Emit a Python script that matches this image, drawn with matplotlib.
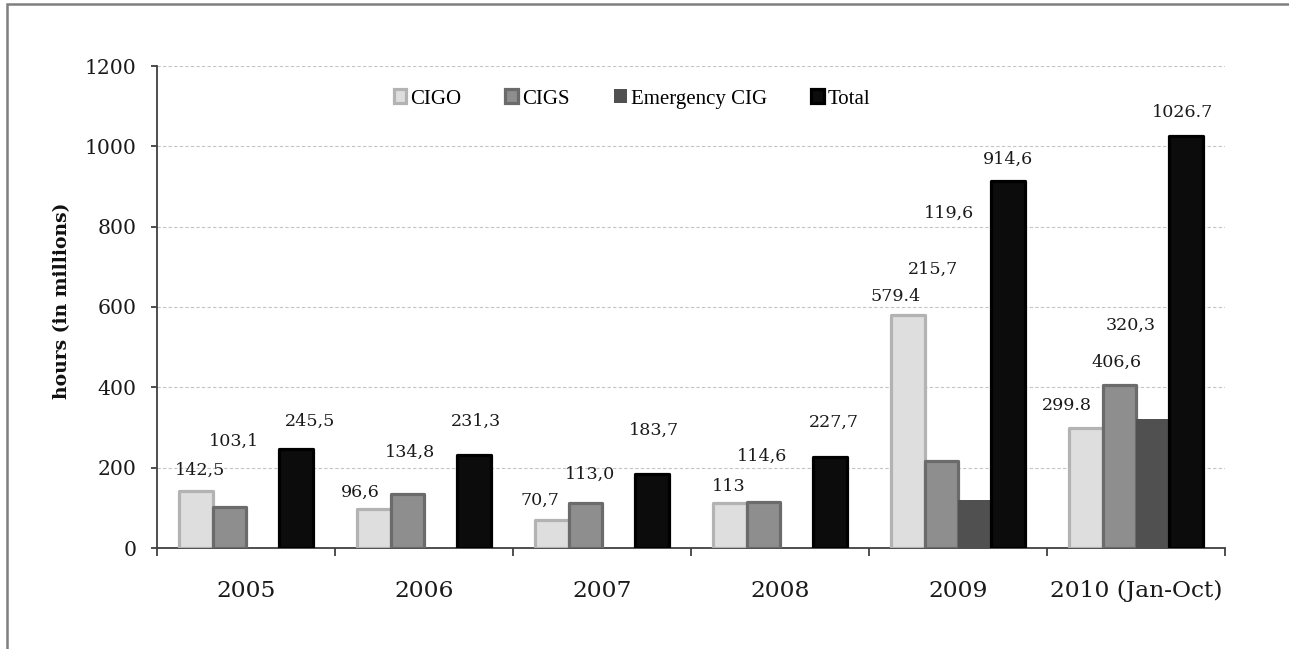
import matplotlib
matplotlib.use('Agg')
import matplotlib.pyplot as plt
from matplotlib.patches import Rectangle
import numpy as np

# data
years = ['2005', '2006', '2007', '2008', '2009', '2010 (Jan-Oct)']
cigo = [142.5, 96.6, 70.7, 113.0, 579.4, 299.8]
cigs = [103.1, 134.8, 113.0, 114.6, 215.7, 406.6]
emergency = [0, 0, 0, 0, 119.6, 320.3]
total = [245.5, 231.3, 183.7, 227.7, 914.6, 1026.7]

# labels as printed (mixed decimal separators in the original)
label_text = [['142,5', '103,1', '245,5'],
              ['96,6', '134,8', '231,3'],
              ['70,7', '113,0', '183,7'],
              ['113', '114,6', '227,7'],
              ['579.4', '215,7', '119,6', '914,6'],
              ['299.8', '406,6', '320,3', '1026.7']]
# where the labels sit (x offset from group centre, y in data units)
label_dx = [[-0.26, -0.065, 0.36],
            [-0.36, -0.08, 0.29],
            [-0.35, -0.07, 0.29],
            [-0.29, -0.10, 0.30],
            [-0.35, -0.14, -0.05, 0.28],
            [-0.39, -0.11, -0.03, 0.26]]
label_y = [[194, 266, 316],
           [139, 239, 316],
           [119, 184, 294],
           [152, 227, 314],
           [625, 695, 834, 968],
           [354, 463, 555, 1085]]

series_names = ['CIGO', 'CIGS', 'Emergency CIG', 'Total']
series = [cigo, cigs, emergency, total]
face_colors = ['#dedede', '#8e8e8e', '#505050', '#0c0c0c']
edge_colors = ['#b3b3b3', '#6b6b6b', '#505050', '#000000']
edge_widths = [2.3, 2.3, 0.0, 2.3]

num_font = 'DejaVu Serif'
txt_font = 'Liberation Serif'

fig = plt.figure(figsize=(12.89, 6.49), dpi=100)
# outer frame of the original image
fig.patches.append(Rectangle((7/1289, -0.1), 1.2, 1 - 4/649 + 0.1, transform=fig.transFigure,
                             fill=False, edgecolor='#7f7f7f', linewidth=1.8, zorder=0))

ax = fig.add_axes([157/1289, 1 - 548/649, (1225 - 157)/1289, (548 - 66)/649])

x = np.arange(len(years))
w = 0.188
for i in range(len(series)):
    ax.bar(x + (i - 1.5) * w, series[i], width=w, color=face_colors[i],
           edgecolor=edge_colors[i], linewidth=edge_widths[i], joinstyle='round',
           label=series_names[i], zorder=3)

for g in range(len(years)):
    for k in range(len(label_text[g])):
        ax.text(x[g] + label_dx[g][k], label_y[g][k], label_text[g][k], ha='center', va='center',
                fontsize=12.6, family=num_font, color='#1a1a1a', zorder=4)

ax.set_xlim(-0.5, len(years) - 0.5)
ax.set_ylim(0, 1200)
ax.set_yticks(np.arange(0, 1201, 200))
ax.yaxis.grid(True, linestyle=(0, (3, 2)), color='#c4c4c4', linewidth=0.8, zorder=0)
ax.set_axisbelow(True)

ax.set_xticks(x)
ax.set_xticklabels(years, family=num_font, fontsize=16.8, color='#1a1a1a')
ax.set_xticks(np.arange(-0.5, len(years)), minor=True)
ax.tick_params(axis='x', which='major', length=0, pad=23)
ax.tick_params(axis='x', which='minor', length=6, width=1.3, color='#404040', direction='out')
ax.tick_params(axis='y', length=4, width=1.3, color='#404040', pad=11)
for lab in ax.get_yticklabels():
    lab.set_family(num_font)
    lab.set_fontsize(14.7)
    lab.set_color('#1a1a1a')

for s in ['top', 'right']:
    ax.spines[s].set_visible(False)
for s in ['left', 'bottom']:
    ax.spines[s].set_color('#404040')
    ax.spines[s].set_linewidth(1.3)

fig.text(62/1289, 1 - 301/649, 'hours (in millions)', rotation=90, ha='center', va='center',
         family=num_font, fontweight='bold', fontsize=13.5, color='#111111')

leg = fig.legend(loc='center', bbox_to_anchor=(632/1289, 1 - 99/649), ncol=4, frameon=False,
                 handlelength=0.62, handleheight=0.62, handletextpad=0.2, columnspacing=2.1,
                 prop={'family': txt_font, 'size': 15})

fig.savefig('out.png', dpi=100)
